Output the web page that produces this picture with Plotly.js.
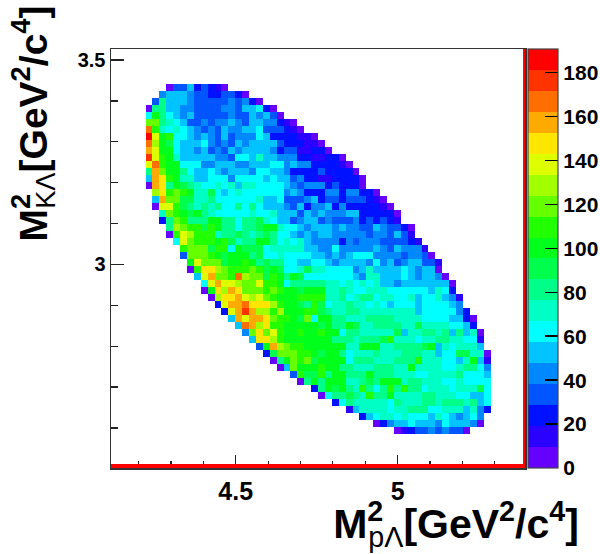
<!DOCTYPE html>
<html>
<head>
<meta charset="utf-8">
<script src="https://cdn.plot.ly/plotly-3.0.1.min.js"></script>
<style>html,body{margin:0;padding:0;background:#fff}</style>
</head>
<body>
<div id="chart" style="width:600px;height:554px"></div>
<script>
// Histogram binning of the Dalitz plot (60 x 60 bins over the frame)
const xRange = [4.115, 5.393];
const yRange = [2.502, 3.527];
const nBins = 60;
// first filled column of each filled row; rows run from the top of the frame
const firstRow = 5;
const rowStart = [8,7,6,5,5,5,5,5,5,5,5,5,5,5,5,6,6,6,7,7,8,8,9,10,10,11,11,12,13,13,14,15,16,17,18,19,20,21,22,23,24,26,27,29,30,32,34,36,38,41];
const rowCounts = [
[6,38,36,50,28,32,24,14,8],
[45,52,54,48,47,35,33,24,23,30,31,24,6],
[34,78,52,54,50,46,32,30,33,30,33,44,30,46,28,7],
[6,85,82,55,50,46,44,30,30,32,30,40,43,34,48,52,62,26,8],
[62,100,80,62,54,46,52,34,36,34,33,36,44,36,34,54,46,52,34,8],
[122,118,85,72,66,52,30,36,40,38,40,44,52,42,30,54,56,46,44,24,14,8],
[165,108,68,64,72,58,54,46,34,46,33,48,46,44,54,52,62,30,33,30,24,16,7],
[186,140,104,106,66,64,54,46,52,44,32,54,30,46,44,43,64,52,26,24,24,22,16,14,7],
[170,125,100,90,64,52,54,50,62,46,34,44,30,52,44,54,54,52,52,34,26,24,22,14,14,7],
[157,135,104,100,62,54,52,46,54,30,46,32,54,44,54,52,52,52,44,24,32,30,16,14,24,24,7],
[178,140,108,100,70,54,52,50,52,52,46,44,34,62,62,54,72,52,54,46,44,44,24,26,14,14,24,22,6],
[140,165,112,104,100,66,64,62,46,44,54,52,52,46,44,54,52,54,62,66,44,52,46,40,26,24,26,24,16,6],
[80,158,118,100,100,82,64,52,52,62,56,46,54,52,52,46,62,64,54,52,44,24,24,26,24,34,24,24,26,22,7],
[52,160,148,106,100,72,70,52,54,62,62,60,46,62,60,62,60,52,62,54,52,32,44,24,22,14,14,24,20,24,22,7],
[6,162,150,85,100,94,85,72,62,64,70,62,72,54,72,70,62,62,62,60,54,46,36,44,44,42,24,33,24,24,24,8],
[125,150,108,118,105,100,72,74,90,64,52,62,72,62,62,60,64,62,60,46,52,42,24,26,22,40,42,26,40,42,24,20,7],
[52,162,120,118,92,90,70,74,84,64,66,62,60,64,64,74,52,50,66,36,34,33,46,48,24,33,34,24,33,34,34,24,14,7],
[6,140,142,110,88,84,72,84,72,84,64,62,82,62,80,62,54,52,54,46,34,52,22,44,40,52,24,44,24,24,24,24,24,14,8],
[72,115,106,104,86,100,84,74,64,62,62,64,62,72,62,64,74,54,52,52,34,54,44,48,44,46,44,52,52,22,24,24,24,22,8],
[22,84,120,108,84,82,84,96,98,84,82,60,84,82,92,72,64,52,50,34,46,52,52,34,44,34,34,34,46,22,32,22,30,22,14],
[85,125,118,108,105,88,106,100,84,82,62,80,84,86,100,96,72,64,62,52,40,54,52,48,46,50,46,44,34,36,48,44,36,34,22,8],
[6,106,142,125,108,106,108,72,84,82,86,84,74,84,86,84,62,64,50,46,52,46,50,52,40,46,44,46,44,38,46,46,36,54,32,10],
[62,140,122,110,112,108,104,105,86,72,84,82,96,100,84,64,70,66,72,48,46,44,46,44,24,46,34,46,46,46,36,34,34,34,22,12],
[112,122,122,120,86,105,105,64,100,88,86,86,62,72,74,72,72,72,54,54,46,46,62,46,44,46,46,44,54,46,34,54,46,44,46,14],
[32,122,120,118,105,100,90,100,102,100,84,86,62,64,72,62,62,62,62,54,52,46,54,46,54,62,62,64,40,46,44,46,38,46,46,34,8],
[104,140,115,120,118,88,100,104,105,102,84,86,82,84,64,62,54,52,62,64,52,46,52,54,52,52,46,62,46,52,34,46,54,54,34,34,10],
[6,110,150,148,125,120,105,108,105,122,106,88,100,86,64,62,70,86,72,70,64,62,62,62,44,52,70,54,52,52,54,62,54,44,52,52,8],
[50,135,160,120,122,105,165,125,122,120,86,105,104,84,96,86,64,62,62,62,64,64,64,52,46,70,72,52,54,52,62,54,44,54,54,44,8],
[62,142,160,140,138,125,120,122,135,108,105,100,62,84,84,84,82,84,72,72,64,72,62,72,62,72,54,52,44,54,54,54,54,52,52,54,6],
[6,104,146,130,158,148,120,122,118,106,120,106,100,100,86,100,100,100,72,72,84,72,64,62,72,72,72,64,62,62,62,62,60,52,74,64,22],
[6,125,148,146,160,135,125,140,118,105,104,100,102,105,108,105,110,72,72,85,62,72,84,84,62,72,70,62,62,72,54,62,62,72,54,46,14],
[24,135,160,160,165,150,150,150,125,105,104,100,88,85,105,86,62,72,72,85,72,72,64,72,62,54,62,64,62,52,62,62,62,62,54,44],
[22,138,160,178,162,128,128,105,125,100,102,100,105,108,88,84,72,72,84,84,72,72,72,72,72,72,72,72,54,62,62,62,62,62,46,22],
[50,160,140,158,158,150,118,106,105,104,86,120,62,104,100,85,84,72,72,72,84,84,84,84,72,72,72,72,62,62,62,62,52,52,24,8],
[54,166,158,126,148,110,106,104,100,102,100,104,86,100,84,82,100,86,72,72,84,84,84,84,72,72,86,72,72,72,72,62,62,52,20],
[40,120,148,122,140,105,100,104,106,102,104,106,104,100,62,84,85,72,72,72,72,72,88,52,72,72,84,84,72,84,52,84,52,72,8],
[52,148,148,125,105,104,102,100,102,100,104,100,85,84,84,74,84,84,84,86,106,72,72,72,62,72,72,84,84,72,72,62,62,14],
[30,100,160,125,118,112,106,104,104,104,104,104,104,72,72,100,102,100,72,72,84,84,84,84,86,96,52,72,62,72,72,72,54],
[22,90,120,122,118,108,106,104,86,100,100,84,62,72,72,72,84,72,72,72,84,84,84,72,72,52,62,64,86,90,72,74,7],
[7,84,100,120,105,118,86,100,102,104,100,62,84,84,85,72,72,72,84,84,84,105,72,72,74,62,62,52,72,100,50,14],
[7,52,118,100,102,96,110,100,104,84,84,72,72,72,84,84,84,72,72,104,72,74,72,72,62,62,72,84,84,62,44],
[30,105,88,86,110,85,100,100,84,84,84,102,84,84,84,72,72,72,62,62,72,72,72,72,84,62,62,62,52],
[7,84,102,84,100,100,100,72,72,84,86,84,100,104,100,72,84,84,72,72,74,62,62,72,62,62,62,62],
[28,84,100,86,100,84,72,106,84,62,84,110,84,108,84,84,62,72,72,72,62,72,72,72,92,62],
[7,62,84,84,86,84,72,110,84,85,100,72,72,72,72,84,84,72,72,72,62,62,52,52,62],
[22,62,84,72,72,72,72,72,62,84,72,72,72,84,84,72,84,84,84,72,84,50,62],
[14,52,72,72,72,72,62,72,72,84,84,84,62,62,72,72,72,52,72,44,24],
[24,52,62,72,72,62,72,62,62,62,52,72,62,52,44,52,62,44],
[7,22,44,52,52,62,52,52,52,44,62,52,52,52,44,8],
[7,14,22,32,32,44,34,44,34,32,8]
];
// Colour bar: 20 flat bands from 0 to the top of the palette
const zMax = 190.8;
const bandColors = ["#6600ff","#2a00ff","#0011ff","#0055ff","#0088ff","#00c3ff","#00ffff","#00ffc4","#00ff88","#00ff4d","#00ff1a","#22ff00","#66ff00","#a2ff00","#ddff00","#ffe600","#ffaa00","#ff6e00","#ff3300","#ff0000"];
const xTitle = "<b>M<sup>2</sup></b><sub>pΛ</sub><b>[GeV<sup>2</sup>/c<sup>4</sup>]</b>";
const yTitle = "<b>M<sup>2</sup></b><sub>KΛ</sub><b>[GeV<sup>2</sup>/c<sup>4</sup>]</b>";

const fontFamily = 'Liberation Sans';
const dx = (xRange[1] - xRange[0]) / nBins;
const binTopY = 3.527;
const dy = (binTopY - 2.5) / nBins;
const xCenters = Array.from({length: nBins}, (_, i) => xRange[0] + (i + 0.5) * dx);
const yCenters = Array.from({length: nBins}, (_, i) => 2.5 + (i + 0.5) * dy);
const z = yCenters.map(() => new Array(nBins).fill(null));
rowCounts.forEach((vals, i) => {
  const yIdx = nBins - 1 - (firstRow + i);
  vals.forEach((v, j) => { z[yIdx][rowStart[i] + j] = v; });
});
const colorscale = [];
bandColors.forEach((c, k) => {
  colorscale.push([k / bandColors.length, c]);
  colorscale.push([(k + 1) / bandColors.length, c]);
});

const trace = {
  type: 'heatmap', x: xCenters, y: yCenters, z: z,
  zmin: 0, zmax: zMax, zsmooth: false, colorscale: colorscale,
  hoverongaps: false,
  colorbar: {
    x: 1.0072, xanchor: 'left', xpad: 0, y: 0.5, yanchor: 'middle', ypad: 0,
    len: 1, lenmode: 'fraction', thickness: 30, thicknessmode: 'pixels',
    tick0: 0, dtick: 20, ticks: 'inside', ticklen: 13, tickwidth: 1.5, tickcolor: '#000',
    outlinecolor: '#444', outlinewidth: 1.2, borderwidth: 0,
    tickfont: {family: fontFamily, size: 21, color: '#000', weight: 'bold'}
  }
};
const axisBase = {
  showgrid: false, zeroline: false, showline: true, mirror: true,
  linecolor: '#333', linewidth: 1.5, ticks: 'inside', ticklen: 13, tickwidth: 1.3, tickcolor: '#222',
  tick0: 0, dtick: 0.5,
  minor: {dtick: 0.1, ticks: 'inside', ticklen: 7, tickwidth: 1.2, tickcolor: '#222', showgrid: false}
};
const layout = {
  width: 600, height: 554,
  margin: {l: 111, r: 75, t: 49, b: 86, pad: 0, autoexpand: false},
  paper_bgcolor: '#fff', plot_bgcolor: '#fff',
  font: {family: fontFamily, color: '#000'},
  xaxis: Object.assign({}, axisBase, {
    range: xRange, tickfont: {family: fontFamily, size: 25, color: '#000', weight: 'bold'},
    title: {text: xTitle, font: {family: fontFamily, size: 41, color: '#000'}, standoff: 4}
  }),
  yaxis: Object.assign({}, axisBase, {
    range: yRange, tickfont: {family: fontFamily, size: 20, color: '#000', weight: 'bold'},
    title: {text: yTitle, font: {family: fontFamily, size: 39, color: '#000'}, standoff: 20}
  }),
  shapes: [
    {type: 'rect', xref: 'paper', yref: 'paper', x0: 0, x1: 1, y0: 0, y1: 0.0095, fillcolor: '#ff0000', line: {width: 0}, layer: 'above'},
    {type: 'rect', xref: 'paper', yref: 'paper', x0: 0.9952, x1: 1, y0: 0, y1: 1, fillcolor: '#ff0000', line: {width: 0}, layer: 'above'}
  ]
};
function tuneTitle(cls, subText, shift, tx, ty) {
  const el = document.querySelector('#chart text.' + cls);
  if (!el) return;
  el.querySelectorAll('tspan').forEach(t => {
    if (t.textContent === subText) t.setAttribute('dx', shift);
  });
  const prev = el.getAttribute('transform') || '';
  el.setAttribute('transform', 'translate(' + tx + ',' + ty + ') ' + prev);
}
Plotly.newPlot('chart', [trace], layout, {displayModeBar: false, staticPlot: true}).then(() => {
  tuneTitle('xtitle', 'pΛ', -15, 138, -1);
  tuneTitle('ytitle', 'KΛ', -15, 2, -135);
});
</script>
</body>
</html>
